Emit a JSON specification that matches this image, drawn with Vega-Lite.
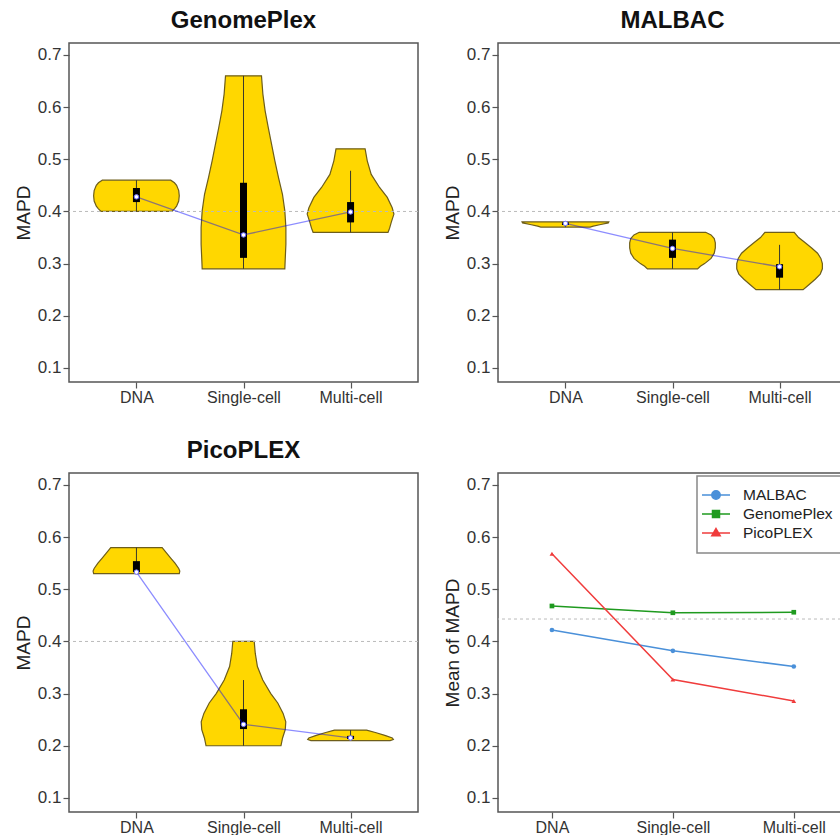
{
  "$schema": "https://vega.github.io/schema/vega-lite/v6.json",
  "padding": {"left": 13, "top": 8, "right": 0, "bottom": 0},
  "background": "white",
  "config": {
    "font": "Liberation Sans",
    "view": {"stroke": "#555555", "strokeWidth": 1.5},
    "axis": {"grid": false, "domain": false, "tickColor": "#555555", "tickSize": 6, "tickWidth": 1.2, "labelFontSize": 17, "labelColor": "#333333", "labelPadding": 2, "titleFontSize": 19, "titleFontWeight": "normal", "titleColor": "#222222", "titlePadding": 4},
    "axisX": {"labelFontSize": 16, "labelPadding": 1},
    "title": {"fontSize": 24, "fontWeight": "bold", "color": "#111111", "offset": 10, "anchor": "middle"},
    "legend": {"orient": "top-right", "offset": 3, "fillColor": "white", "strokeColor": "#888888", "strokeWidth": 1.5, "padding": 11, "labelFontSize": 15.5, "labelColor": "#222222", "labelOffset": 19, "symbolSize": 196, "symbolStrokeWidth": 1.5, "rowPadding": 2, "title": null}
  },
  "resolve": {"scale": {"color": "independent"}, "legend": {"color": "independent"}},
  "datasets": {
    "violin": [
      {"method": "GenomePlex", "group": "DNA", "mapd": 0.400, "lo": 0.670, "hi": 1.330},
      {"method": "GenomePlex", "group": "DNA", "mapd": 0.405, "lo": 0.645, "hi": 1.355},
      {"method": "GenomePlex", "group": "DNA", "mapd": 0.410, "lo": 0.625, "hi": 1.375},
      {"method": "GenomePlex", "group": "DNA", "mapd": 0.420, "lo": 0.605, "hi": 1.395},
      {"method": "GenomePlex", "group": "DNA", "mapd": 0.430, "lo": 0.600, "hi": 1.400},
      {"method": "GenomePlex", "group": "DNA", "mapd": 0.440, "lo": 0.605, "hi": 1.395},
      {"method": "GenomePlex", "group": "DNA", "mapd": 0.450, "lo": 0.625, "hi": 1.375},
      {"method": "GenomePlex", "group": "DNA", "mapd": 0.455, "lo": 0.645, "hi": 1.355},
      {"method": "GenomePlex", "group": "DNA", "mapd": 0.460, "lo": 0.680, "hi": 1.320},
      {"method": "GenomePlex", "group": "Single-cell", "mapd": 0.290, "lo": 1.614, "hi": 2.386},
      {"method": "GenomePlex", "group": "Single-cell", "mapd": 0.305, "lo": 1.611, "hi": 2.389},
      {"method": "GenomePlex", "group": "Single-cell", "mapd": 0.337, "lo": 1.604, "hi": 2.396},
      {"method": "GenomePlex", "group": "Single-cell", "mapd": 0.369, "lo": 1.604, "hi": 2.396},
      {"method": "GenomePlex", "group": "Single-cell", "mapd": 0.401, "lo": 1.614, "hi": 2.386},
      {"method": "GenomePlex", "group": "Single-cell", "mapd": 0.433, "lo": 1.636, "hi": 2.364},
      {"method": "GenomePlex", "group": "Single-cell", "mapd": 0.465, "lo": 1.673, "hi": 2.327},
      {"method": "GenomePlex", "group": "Single-cell", "mapd": 0.497, "lo": 1.707, "hi": 2.293},
      {"method": "GenomePlex", "group": "Single-cell", "mapd": 0.529, "lo": 1.738, "hi": 2.262},
      {"method": "GenomePlex", "group": "Single-cell", "mapd": 0.561, "lo": 1.769, "hi": 2.231},
      {"method": "GenomePlex", "group": "Single-cell", "mapd": 0.593, "lo": 1.798, "hi": 2.202},
      {"method": "GenomePlex", "group": "Single-cell", "mapd": 0.625, "lo": 1.819, "hi": 2.181},
      {"method": "GenomePlex", "group": "Single-cell", "mapd": 0.660, "lo": 1.832, "hi": 2.168},
      {"method": "GenomePlex", "group": "Multi-cell", "mapd": 0.360, "lo": 2.650, "hi": 3.350},
      {"method": "GenomePlex", "group": "Multi-cell", "mapd": 0.368, "lo": 2.635, "hi": 3.365},
      {"method": "GenomePlex", "group": "Multi-cell", "mapd": 0.379, "lo": 2.620, "hi": 3.380},
      {"method": "GenomePlex", "group": "Multi-cell", "mapd": 0.395, "lo": 2.595, "hi": 3.405},
      {"method": "GenomePlex", "group": "Multi-cell", "mapd": 0.407, "lo": 2.611, "hi": 3.389},
      {"method": "GenomePlex", "group": "Multi-cell", "mapd": 0.427, "lo": 2.657, "hi": 3.343},
      {"method": "GenomePlex", "group": "Multi-cell", "mapd": 0.446, "lo": 2.729, "hi": 3.271},
      {"method": "GenomePlex", "group": "Multi-cell", "mapd": 0.471, "lo": 2.807, "hi": 3.193},
      {"method": "GenomePlex", "group": "Multi-cell", "mapd": 0.497, "lo": 2.844, "hi": 3.156},
      {"method": "GenomePlex", "group": "Multi-cell", "mapd": 0.520, "lo": 2.864, "hi": 3.136},
      {"method": "MALBAC", "group": "DNA", "mapd": 0.370, "lo": 0.770, "hi": 1.230},
      {"method": "MALBAC", "group": "DNA", "mapd": 0.372, "lo": 0.740, "hi": 1.260},
      {"method": "MALBAC", "group": "DNA", "mapd": 0.375, "lo": 0.670, "hi": 1.330},
      {"method": "MALBAC", "group": "DNA", "mapd": 0.378, "lo": 0.600, "hi": 1.400},
      {"method": "MALBAC", "group": "DNA", "mapd": 0.380, "lo": 0.595, "hi": 1.405},
      {"method": "MALBAC", "group": "Single-cell", "mapd": 0.290, "lo": 1.766, "hi": 2.234},
      {"method": "MALBAC", "group": "Single-cell", "mapd": 0.295, "lo": 1.740, "hi": 2.260},
      {"method": "MALBAC", "group": "Single-cell", "mapd": 0.300, "lo": 1.700, "hi": 2.300},
      {"method": "MALBAC", "group": "Single-cell", "mapd": 0.310, "lo": 1.640, "hi": 2.360},
      {"method": "MALBAC", "group": "Single-cell", "mapd": 0.320, "lo": 1.610, "hi": 2.390},
      {"method": "MALBAC", "group": "Single-cell", "mapd": 0.330, "lo": 1.600, "hi": 2.400},
      {"method": "MALBAC", "group": "Single-cell", "mapd": 0.340, "lo": 1.600, "hi": 2.400},
      {"method": "MALBAC", "group": "Single-cell", "mapd": 0.348, "lo": 1.610, "hi": 2.390},
      {"method": "MALBAC", "group": "Single-cell", "mapd": 0.355, "lo": 1.640, "hi": 2.360},
      {"method": "MALBAC", "group": "Single-cell", "mapd": 0.360, "lo": 1.690, "hi": 2.310},
      {"method": "MALBAC", "group": "Multi-cell", "mapd": 0.250, "lo": 2.780, "hi": 3.220},
      {"method": "MALBAC", "group": "Multi-cell", "mapd": 0.260, "lo": 2.723, "hi": 3.277},
      {"method": "MALBAC", "group": "Multi-cell", "mapd": 0.270, "lo": 2.667, "hi": 3.333},
      {"method": "MALBAC", "group": "Multi-cell", "mapd": 0.280, "lo": 2.620, "hi": 3.380},
      {"method": "MALBAC", "group": "Multi-cell", "mapd": 0.290, "lo": 2.600, "hi": 3.400},
      {"method": "MALBAC", "group": "Multi-cell", "mapd": 0.300, "lo": 2.600, "hi": 3.400},
      {"method": "MALBAC", "group": "Multi-cell", "mapd": 0.310, "lo": 2.614, "hi": 3.386},
      {"method": "MALBAC", "group": "Multi-cell", "mapd": 0.320, "lo": 2.645, "hi": 3.355},
      {"method": "MALBAC", "group": "Multi-cell", "mapd": 0.330, "lo": 2.700, "hi": 3.300},
      {"method": "MALBAC", "group": "Multi-cell", "mapd": 0.340, "lo": 2.760, "hi": 3.240},
      {"method": "MALBAC", "group": "Multi-cell", "mapd": 0.350, "lo": 2.822, "hi": 3.178},
      {"method": "MALBAC", "group": "Multi-cell", "mapd": 0.360, "lo": 2.863, "hi": 3.137},
      {"method": "PicoPLEX", "group": "DNA", "mapd": 0.530, "lo": 0.600, "hi": 1.400},
      {"method": "PicoPLEX", "group": "DNA", "mapd": 0.535, "lo": 0.595, "hi": 1.405},
      {"method": "PicoPLEX", "group": "DNA", "mapd": 0.540, "lo": 0.605, "hi": 1.395},
      {"method": "PicoPLEX", "group": "DNA", "mapd": 0.550, "lo": 0.640, "hi": 1.360},
      {"method": "PicoPLEX", "group": "DNA", "mapd": 0.560, "lo": 0.680, "hi": 1.320},
      {"method": "PicoPLEX", "group": "DNA", "mapd": 0.570, "lo": 0.720, "hi": 1.280},
      {"method": "PicoPLEX", "group": "DNA", "mapd": 0.580, "lo": 0.760, "hi": 1.240},
      {"method": "PicoPLEX", "group": "Single-cell", "mapd": 0.200, "lo": 1.650, "hi": 2.350},
      {"method": "PicoPLEX", "group": "Single-cell", "mapd": 0.215, "lo": 1.635, "hi": 2.365},
      {"method": "PicoPLEX", "group": "Single-cell", "mapd": 0.231, "lo": 1.610, "hi": 2.390},
      {"method": "PicoPLEX", "group": "Single-cell", "mapd": 0.246, "lo": 1.605, "hi": 2.395},
      {"method": "PicoPLEX", "group": "Single-cell", "mapd": 0.262, "lo": 1.630, "hi": 2.370},
      {"method": "PicoPLEX", "group": "Single-cell", "mapd": 0.282, "lo": 1.680, "hi": 2.320},
      {"method": "PicoPLEX", "group": "Single-cell", "mapd": 0.300, "lo": 1.745, "hi": 2.255},
      {"method": "PicoPLEX", "group": "Single-cell", "mapd": 0.326, "lo": 1.820, "hi": 2.180},
      {"method": "PicoPLEX", "group": "Single-cell", "mapd": 0.352, "lo": 1.870, "hi": 2.130},
      {"method": "PicoPLEX", "group": "Single-cell", "mapd": 0.377, "lo": 1.890, "hi": 2.110},
      {"method": "PicoPLEX", "group": "Single-cell", "mapd": 0.400, "lo": 1.900, "hi": 2.100},
      {"method": "PicoPLEX", "group": "Multi-cell", "mapd": 0.210, "lo": 2.630, "hi": 3.370},
      {"method": "PicoPLEX", "group": "Multi-cell", "mapd": 0.212, "lo": 2.600, "hi": 3.400},
      {"method": "PicoPLEX", "group": "Multi-cell", "mapd": 0.215, "lo": 2.610, "hi": 3.390},
      {"method": "PicoPLEX", "group": "Multi-cell", "mapd": 0.220, "lo": 2.680, "hi": 3.320},
      {"method": "PicoPLEX", "group": "Multi-cell", "mapd": 0.225, "lo": 2.760, "hi": 3.240},
      {"method": "PicoPLEX", "group": "Multi-cell", "mapd": 0.230, "lo": 2.850, "hi": 3.150}
    ],
    "box": [
      {"method": "GenomePlex", "group": "DNA", "pos": 1, "wlo": 0.40, "whi": 0.46, "q1": 0.418, "q3": 0.445, "med": 0.428},
      {"method": "GenomePlex", "group": "Single-cell", "pos": 2, "wlo": 0.29, "whi": 0.66, "q1": 0.311, "q3": 0.455, "med": 0.355},
      {"method": "GenomePlex", "group": "Multi-cell", "pos": 3, "wlo": 0.36, "whi": 0.478, "q1": 0.379, "q3": 0.418, "med": 0.399},
      {"method": "MALBAC", "group": "DNA", "pos": 1, "wlo": 0.37, "whi": 0.38, "q1": 0.374, "q3": 0.379, "med": 0.377},
      {"method": "MALBAC", "group": "Single-cell", "pos": 2, "wlo": 0.29, "whi": 0.36, "q1": 0.311, "q3": 0.346, "med": 0.329},
      {"method": "MALBAC", "group": "Multi-cell", "pos": 3, "wlo": 0.25, "whi": 0.336, "q1": 0.273, "q3": 0.299, "med": 0.294},
      {"method": "PicoPLEX", "group": "DNA", "pos": 1, "wlo": 0.53, "whi": 0.58, "q1": 0.533, "q3": 0.554, "med": 0.533},
      {"method": "PicoPLEX", "group": "Single-cell", "pos": 2, "wlo": 0.20, "whi": 0.326, "q1": 0.232, "q3": 0.27, "med": 0.241},
      {"method": "PicoPLEX", "group": "Multi-cell", "pos": 3, "wlo": 0.21, "whi": 0.23, "q1": 0.213, "q3": 0.219, "med": 0.215}
    ],
    "means": [
      {"method": "MALBAC", "pos": 1, "mean": 0.422},
      {"method": "MALBAC", "pos": 2, "mean": 0.382},
      {"method": "MALBAC", "pos": 3, "mean": 0.352},
      {"method": "GenomePlex", "pos": 1, "mean": 0.468},
      {"method": "GenomePlex", "pos": 2, "mean": 0.455},
      {"method": "GenomePlex", "pos": 3, "mean": 0.456},
      {"method": "PicoPLEX", "pos": 1, "mean": 0.568},
      {"method": "PicoPLEX", "pos": 2, "mean": 0.327},
      {"method": "PicoPLEX", "pos": 3, "mean": 0.286}
    ]
  },
  "columns": 2,
  "bounds": "flush",
  "spacing": {"row": 91, "column": 80},
  "concat": [
    {
      "title": "GenomePlex",
      "width": 349, "height": 339,
      "layer": [
        {"data": {"name": "violin"}, "transform": [{"filter": "datum.method === 'GenomePlex'"}],
         "mark": {"type": "area", "orient": "horizontal", "fill": "#FFD700", "stroke": "#6e5e1a", "strokeWidth": 1.2},
         "encoding": {
           "y": {"field": "mapd", "type": "quantitative", "scale": {"domain": [0.073, 0.723], "nice": false, "zero": false}, "axis": {"values": [0.1, 0.2, 0.3, 0.4, 0.5, 0.6, 0.7], "format": ".1f", "title": "MAPD"}},
           "x": {"field": "lo", "type": "quantitative", "scale": {"domain": [0.37, 3.63], "nice": false, "zero": false}, "axis": {"values": [1, 2, 3], "title": null, "labelExpr": "datum.value == 1 ? 'DNA' : datum.value == 2 ? 'Single-cell' : 'Multi-cell'"}},
           "x2": {"field": "hi"},
           "detail": {"field": "group"}
         }},
        {"data": {"values": [{"ref": 0.4}]}, "mark": {"type": "rule", "stroke": "#bbbbbb", "strokeDash": [3, 3], "strokeWidth": 1}, "encoding": {"y": {"field": "ref", "type": "quantitative"}}},
        {"data": {"name": "box"}, "transform": [{"filter": "datum.method === 'GenomePlex'"}], "mark": {"type": "rule", "stroke": "#3a3a2a", "strokeWidth": 1}, "encoding": {"x": {"field": "pos", "type": "quantitative"}, "y": {"field": "wlo", "type": "quantitative"}, "y2": {"field": "whi"}}},
        {"data": {"name": "box"}, "transform": [{"filter": "datum.method === 'GenomePlex'"}], "mark": {"type": "rule", "stroke": "black", "strokeWidth": 7, "strokeCap": "butt"}, "encoding": {"x": {"field": "pos", "type": "quantitative"}, "y": {"field": "q1", "type": "quantitative"}, "y2": {"field": "q3"}}},
        {"data": {"name": "box"}, "transform": [{"filter": "datum.method === 'GenomePlex'"}], "mark": {"type": "line", "stroke": "#0000ff", "strokeOpacity": 0.45, "strokeWidth": 1.3}, "encoding": {"x": {"field": "pos", "type": "quantitative"}, "y": {"field": "med", "type": "quantitative"}}},
        {"data": {"name": "box"}, "transform": [{"filter": "datum.method === 'GenomePlex'"}], "mark": {"type": "point", "filled": true, "fill": "white", "stroke": "#7070ff", "strokeWidth": 1, "size": 20, "opacity": 1}, "encoding": {"x": {"field": "pos", "type": "quantitative"}, "y": {"field": "med", "type": "quantitative"}}}
      ]
    },
    {
      "title": "MALBAC",
      "width": 349, "height": 339,
      "layer": [
        {"data": {"name": "violin"}, "transform": [{"filter": "datum.method === 'MALBAC'"}],
         "mark": {"type": "area", "orient": "horizontal", "fill": "#FFD700", "stroke": "#6e5e1a", "strokeWidth": 1.2},
         "encoding": {
           "y": {"field": "mapd", "type": "quantitative", "scale": {"domain": [0.073, 0.723], "nice": false, "zero": false}, "axis": {"values": [0.1, 0.2, 0.3, 0.4, 0.5, 0.6, 0.7], "format": ".1f", "title": "MAPD"}},
           "x": {"field": "lo", "type": "quantitative", "scale": {"domain": [0.37, 3.63], "nice": false, "zero": false}, "axis": {"values": [1, 2, 3], "title": null, "labelExpr": "datum.value == 1 ? 'DNA' : datum.value == 2 ? 'Single-cell' : 'Multi-cell'"}},
           "x2": {"field": "hi"},
           "detail": {"field": "group"}
         }},
        {"data": {"values": [{"ref": 0.4}]}, "mark": {"type": "rule", "stroke": "#bbbbbb", "strokeDash": [3, 3], "strokeWidth": 1}, "encoding": {"y": {"field": "ref", "type": "quantitative"}}},
        {"data": {"name": "box"}, "transform": [{"filter": "datum.method === 'MALBAC'"}], "mark": {"type": "rule", "stroke": "#3a3a2a", "strokeWidth": 1}, "encoding": {"x": {"field": "pos", "type": "quantitative"}, "y": {"field": "wlo", "type": "quantitative"}, "y2": {"field": "whi"}}},
        {"data": {"name": "box"}, "transform": [{"filter": "datum.method === 'MALBAC'"}], "mark": {"type": "rule", "stroke": "black", "strokeWidth": 7, "strokeCap": "butt"}, "encoding": {"x": {"field": "pos", "type": "quantitative"}, "y": {"field": "q1", "type": "quantitative"}, "y2": {"field": "q3"}}},
        {"data": {"name": "box"}, "transform": [{"filter": "datum.method === 'MALBAC'"}], "mark": {"type": "line", "stroke": "#0000ff", "strokeOpacity": 0.45, "strokeWidth": 1.3}, "encoding": {"x": {"field": "pos", "type": "quantitative"}, "y": {"field": "med", "type": "quantitative"}}},
        {"data": {"name": "box"}, "transform": [{"filter": "datum.method === 'MALBAC'"}], "mark": {"type": "point", "filled": true, "fill": "white", "stroke": "#7070ff", "strokeWidth": 1, "size": 20, "opacity": 1}, "encoding": {"x": {"field": "pos", "type": "quantitative"}, "y": {"field": "med", "type": "quantitative"}}}
      ]
    },
    {
      "title": "PicoPLEX",
      "width": 349, "height": 339,
      "layer": [
        {"data": {"name": "violin"}, "transform": [{"filter": "datum.method === 'PicoPLEX'"}],
         "mark": {"type": "area", "orient": "horizontal", "fill": "#FFD700", "stroke": "#6e5e1a", "strokeWidth": 1.2},
         "encoding": {
           "y": {"field": "mapd", "type": "quantitative", "scale": {"domain": [0.073, 0.723], "nice": false, "zero": false}, "axis": {"values": [0.1, 0.2, 0.3, 0.4, 0.5, 0.6, 0.7], "format": ".1f", "title": "MAPD"}},
           "x": {"field": "lo", "type": "quantitative", "scale": {"domain": [0.37, 3.63], "nice": false, "zero": false}, "axis": {"values": [1, 2, 3], "title": null, "labelExpr": "datum.value == 1 ? 'DNA' : datum.value == 2 ? 'Single-cell' : 'Multi-cell'"}},
           "x2": {"field": "hi"},
           "detail": {"field": "group"}
         }},
        {"data": {"values": [{"ref": 0.4}]}, "mark": {"type": "rule", "stroke": "#bbbbbb", "strokeDash": [3, 3], "strokeWidth": 1}, "encoding": {"y": {"field": "ref", "type": "quantitative"}}},
        {"data": {"name": "box"}, "transform": [{"filter": "datum.method === 'PicoPLEX'"}], "mark": {"type": "rule", "stroke": "#3a3a2a", "strokeWidth": 1}, "encoding": {"x": {"field": "pos", "type": "quantitative"}, "y": {"field": "wlo", "type": "quantitative"}, "y2": {"field": "whi"}}},
        {"data": {"name": "box"}, "transform": [{"filter": "datum.method === 'PicoPLEX'"}], "mark": {"type": "rule", "stroke": "black", "strokeWidth": 7, "strokeCap": "butt"}, "encoding": {"x": {"field": "pos", "type": "quantitative"}, "y": {"field": "q1", "type": "quantitative"}, "y2": {"field": "q3"}}},
        {"data": {"name": "box"}, "transform": [{"filter": "datum.method === 'PicoPLEX'"}], "mark": {"type": "line", "stroke": "#0000ff", "strokeOpacity": 0.45, "strokeWidth": 1.3}, "encoding": {"x": {"field": "pos", "type": "quantitative"}, "y": {"field": "med", "type": "quantitative"}}},
        {"data": {"name": "box"}, "transform": [{"filter": "datum.method === 'PicoPLEX'"}], "mark": {"type": "point", "filled": true, "fill": "white", "stroke": "#7070ff", "strokeWidth": 1, "size": 20, "opacity": 1}, "encoding": {"x": {"field": "pos", "type": "quantitative"}, "y": {"field": "med", "type": "quantitative"}}}
      ]
    },
    {
      "width": 349, "height": 339,
      "layer": [
        {"data": {"values": [{"ref": 0.443}]}, "mark": {"type": "rule", "stroke": "#bbbbbb", "strokeDash": [3, 3], "strokeWidth": 1},
         "encoding": {
           "y": {"field": "ref", "type": "quantitative", "scale": {"domain": [0.073, 0.723], "nice": false, "zero": false}, "axis": {"values": [0.1, 0.2, 0.3, 0.4, 0.5, 0.6, 0.7], "format": ".1f", "title": "Mean of MAPD"}}
         }},
        {"data": {"name": "means"},
         "mark": {"type": "line", "strokeWidth": 1.5},
         "encoding": {
           "x": {"field": "pos", "type": "quantitative", "scale": {"domain": [0.554, 3.44], "nice": false, "zero": false}, "axis": {"values": [1, 2, 3], "title": null, "labelExpr": "datum.value == 1 ? 'DNA' : datum.value == 2 ? 'Single-cell' : 'Multi-cell'"}},
           "y": {"field": "mean", "type": "quantitative"},
           "color": {"field": "method", "type": "nominal", "scale": {"domain": ["MALBAC", "GenomePlex", "PicoPLEX"], "range": ["#4a90d9", "#1f9a1f", "#f03c3c"]},
             "legend": {"title": null, "symbolSize": 196, "encode": {"symbols": {"update": {
               "shape": {"signal": "datum.value === 'MALBAC' ? 'M-2,0L2,0M0.6,0A0.6,0.6,0,1,1,-0.6,0A0.6,0.6,0,1,1,0.6,0Z' : datum.value === 'GenomePlex' ? 'M-2,0L2,0M-0.5,-0.5L0.5,-0.5L0.5,0.5L-0.5,0.5Z' : 'M-2,0L2,0M0,-0.64L0.6,0.4L-0.6,0.4Z'"},
               "fill": {"signal": "datum.value === 'MALBAC' ? '#4a90d9' : datum.value === 'GenomePlex' ? '#1f9a1f' : '#f03c3c'"},
               "stroke": {"signal": "datum.value === 'MALBAC' ? '#4a90d9' : datum.value === 'GenomePlex' ? '#1f9a1f' : '#f03c3c'"},
               "strokeWidth": {"value": 1.5}
             }}}}}
         }},
        {"data": {"name": "means"},
         "mark": {"type": "point", "filled": true, "size": 22, "opacity": 1},
         "encoding": {
           "x": {"field": "pos", "type": "quantitative"},
           "y": {"field": "mean", "type": "quantitative"},
           "color": {"field": "method", "type": "nominal"},
           "shape": {"field": "method", "type": "nominal", "scale": {"domain": ["MALBAC", "GenomePlex", "PicoPLEX"], "range": ["circle", "square", "triangle-up"]}, "legend": null}
         }}
      ]
    }
  ]
}
